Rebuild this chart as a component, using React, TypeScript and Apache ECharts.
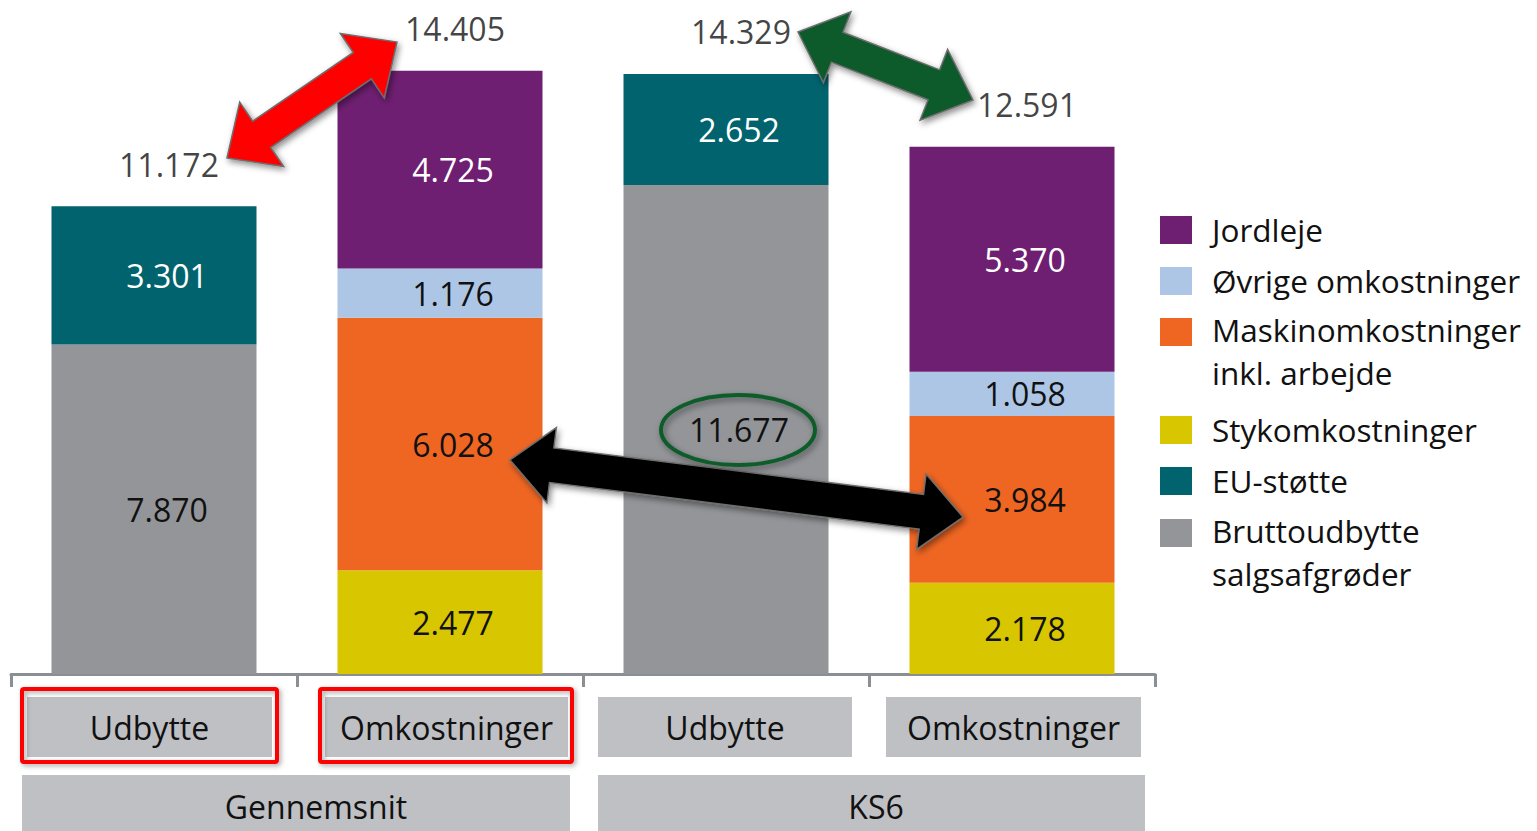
import React, { useEffect, useRef } from "react";
import * as echarts from "echarts";

const categories = ["Udbytte", "Omkostninger", "Udbytte", "Omkostninger"];
const groups = ["Gennemsnit", "KS6"];

const brutto = [7870, null, 11677, null];
const euStotte = [3301, null, 2652, null];
const styk = [null, 2477, null, 2178];
const maskin = [null, 6028, null, 3984];
const ovrige = [null, 1176, null, 1058];
const jordleje = [null, 4725, null, 5370];
const totals = [11172, 14405, 14329, 12591];

const seriesNames = [
  "Bruttoudbytte salgsafgrøder",
  "EU-støtte",
  "Stykomkostninger",
  "Maskinomkostninger inkl. arbejde",
  "Øvrige omkostninger",
  "Jordleje",
];
const seriesColors = ["#939598", "#00636e", "#d8c600", "#ef6623", "#adc6e6", "#6e1f71"];
const labelColors = ["#111111", "#ffffff", "#111111", "#111111", "#111111", "#ffffff"];

const legendItems = [
  { lines: ["Jordleje"], color: "#6e1f71" },
  { lines: ["Øvrige omkostninger"], color: "#adc6e6" },
  { lines: ["Maskinomkostninger", "inkl. arbejde"], color: "#ef6623" },
  { lines: ["Stykomkostninger"], color: "#d8c600" },
  { lines: ["EU-støtte"], color: "#00636e" },
  { lines: ["Bruttoudbytte", "salgsafgrøder"], color: "#939598" },
];
const legendY = [229, 280, 331, 429, 480, 532];

// per-category label box geometry (width, left pad, right pad)
const boxW = [245, 243, 254, 255];
const padL = [0, 13, 0, 3];
const padR = [9, 0, 2, 0];

const FONT = "Open Sans";

function fmt(v: number) {
  const s = String(Math.round(v));
  return s.length > 3 ? s.slice(0, -3) + "." + s.slice(-3) : s;
}

function dblArrow(x1: number, y1: number, x2: number, y2: number, shaft: number, headW: number, headL: number) {
  const dx = x2 - x1, dy = y2 - y1;
  const len = Math.sqrt(dx * dx + dy * dy);
  const ux = dx / len, uy = dy / len;
  const nx = -uy, ny = ux;
  const P = (bx: number, by: number, a: number, n: number) => [bx + ux * a + nx * n, by + uy * a + ny * n];
  return [
    [x1, y1],
    P(x1, y1, headL, headW / 2),
    P(x1, y1, headL, shaft / 2),
    P(x2, y2, -headL, shaft / 2),
    P(x2, y2, -headL, headW / 2),
    [x2, y2],
    P(x2, y2, -headL, -headW / 2),
    P(x2, y2, -headL, -shaft / 2),
    P(x1, y1, headL, -shaft / 2),
    P(x1, y1, headL, -headW / 2),
  ];
}

export default function App() {
  const ref = useRef<HTMLDivElement>(null);
  useEffect(() => {
    document.body.style.margin = "0";
    const chart = echarts.init(ref.current!, null, { renderer: "svg" });
    const data = [brutto, euStotte, styk, maskin, ovrige, jordleje];

    const series: any[] = data.map((arr, k) => ({
      name: seriesNames[k],
      type: "bar",
      stack: "total",
      barWidth: 205,
      data: arr,
      itemStyle: { color: seriesColors[k] },
      label: {
        show: true,
        position: "inside",
        offset: [13, 0],
        fontFamily: FONT,
        fontSize: 32,
        color: labelColors[k],
        formatter: (p: any) => (p.value == null ? "" : fmt(p.value)),
      },
    }));
    series.push({
      name: "Total",
      type: "scatter",
      data: totals,
      symbolSize: 0,
      label: {
        show: true,
        position: "inside",
        offset: [15, -42],
        fontFamily: FONT,
        fontSize: 32,
        color: "#111",
        formatter: (p: any) => fmt(p.value),
      },
      z: 5,
    });

    const rich: any = {};
    categories.forEach((_, i) => {
      rich["l" + i] = { width: padL[i], height: 60 };
      rich["r" + i] = { width: padR[i], height: 60 };
      rich["b" + i] = {
        width: boxW[i], height: 60, lineHeight: 60, align: "center",
        backgroundColor: "#bfc0c4", fontFamily: FONT, fontSize: 32, color: "#111",
      };
    });

    const shadow = { shadowBlur: 5, shadowColor: "rgba(0,0,0,0.35)", shadowOffsetX: 2, shadowOffsetY: 2 };
    const graphic: any[] = [];
    graphic.push({
      type: "rect", z: 50,
      shape: { x: 22, y: 689, width: 255, height: 73, r: 2 },
      style: { fill: "none", stroke: "#ff0000", lineWidth: 4, ...shadow },
    });
    graphic.push({
      type: "rect", z: 50,
      shape: { x: 320, y: 689, width: 252, height: 73, r: 2 },
      style: { fill: "none", stroke: "#ff0000", lineWidth: 4, ...shadow },
    });
    const groupBoxes = [
      { x: 22, w: 548, tx: 316 },
      { x: 598, w: 547, tx: 876 },
    ];
    groupBoxes.forEach((b, i) => {
      graphic.push({
        type: "rect", z: 10,
        shape: { x: b.x, y: 775, width: b.w, height: 60 },
        style: { fill: "#bfc0c4" },
      });
      graphic.push({
        type: "text", z: 11,
        x: b.tx, y: 806,
        style: { text: groups[i], fontFamily: FONT, fontSize: 32, fill: "#111", align: "center", verticalAlign: "middle" },
      });
    });
    legendItems.forEach((it, i) => {
      graphic.push({
        type: "rect", z: 10,
        shape: { x: 1160, y: legendY[i] - 13, width: 32, height: 28 },
        style: { fill: it.color },
      });
      const multi = it.lines.length > 1;
      it.lines.forEach((line, j) => {
        graphic.push({
          type: "text", z: 10,
          x: 1212, y: multi ? legendY[i] - 2 + j * 43 : legendY[i],
          style: {
            text: line, fontFamily: FONT, fontSize: 31.5,
            fill: "#111", align: "left", verticalAlign: "middle",
          },
        });
      });
    });
    const arrowShadow = { shadowBlur: 6, shadowColor: "rgba(0,0,0,0.45)", shadowOffsetX: 2, shadowOffsetY: 3 };
    graphic.push({
      type: "polygon", z: 60,
      shape: { points: dblArrow(227, 158, 397, 42, 32, 78, 42) },
      style: { fill: "#ff0000", stroke: "#6e6e6e", lineWidth: 1.5, ...arrowShadow },
    });
    graphic.push({
      type: "polygon", z: 60,
      shape: { points: dblArrow(798, 32, 973, 100, 32, 76, 42) },
      style: { fill: "#0b5a2a", stroke: "#6e6e6e", lineWidth: 1.5, ...arrowShadow },
    });
    graphic.push({
      type: "polygon", z: 60,
      shape: { points: dblArrow(510, 460, 963, 517, 35, 76, 42) },
      style: { fill: "#000000", stroke: "#6e6e6e", lineWidth: 1.5, ...arrowShadow },
    });
    graphic.push({
      type: "ellipse", z: 60,
      shape: { cx: 738, cy: 430, rx: 77, ry: 35 },
      style: { fill: "none", stroke: "#0d5c2c", lineWidth: 4, ...arrowShadow },
    });

    chart.setOption({
      animation: false,
      backgroundColor: "#ffffff",
      textStyle: { fontFamily: FONT },
      grid: { left: 11, right: 1537 - 1155, top: 4, bottom: 157, containLabel: false },
      xAxis: {
        type: "category",
        data: categories,
        axisLine: { show: true, lineStyle: { color: "#8b8e92", width: 3 } },
        axisTick: { show: true, length: 13, lineStyle: { color: "#8b8e92", width: 3 } },
        axisLabel: {
          interval: 0,
          margin: 23,
          verticalAlign: "top",
          formatter: (v: string, i: number) => `{l${i}| }{b${i}|${v}}{r${i}| }`,
          rich,
        },
      },
      yAxis: {
        type: "value",
        min: 0,
        max: 16000,
        show: false,
        splitLine: { show: false },
      },
      series,
      graphic,
    });
    return () => chart.dispose();
  }, []);
  return <div ref={ref} style={{ position: "fixed", left: 0, top: 0, width: 1537, height: 831 }} />;
}
